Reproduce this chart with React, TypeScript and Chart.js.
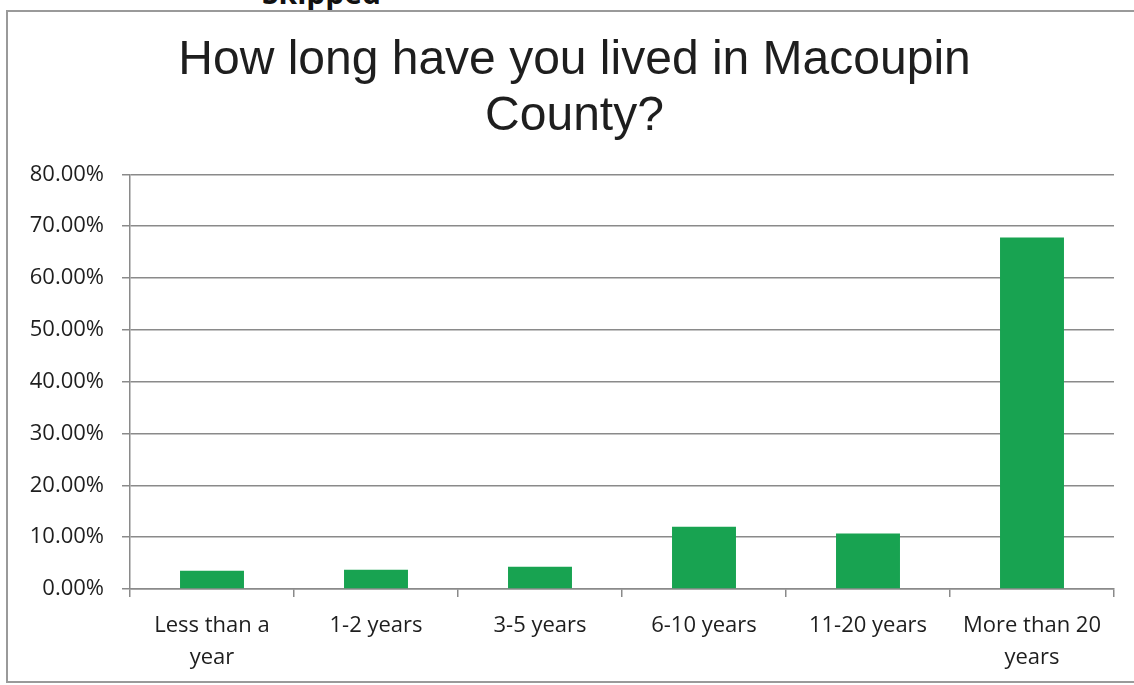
import React, { useEffect, useRef } from "react";
import { Chart, registerables } from "chart.js";

Chart.register(...registerables);

const titleLines = ["How long have you lived in Macoupin", "County?"];
const categoryLabels: (string | string[])[] = [
  ["Less than a", "year"],
  "1-2 years",
  "3-5 years",
  "6-10 years",
  "11-20 years",
  ["More than 20", "years"],
];
const percentValues = [3.5, 3.7, 4.3, 12.0, 10.7, 67.8];
const yTickMin = 0;
const yTickMax = 80;
const yTickStep = 10;

const GRID = "#8a8a8a";
const TEXT = "#1e1e1e";
const BAR = "#18a351";

export default function App() {
  const canvasRef = useRef<HTMLCanvasElement | null>(null);

  useEffect(() => {
    const canvas = canvasRef.current;
    if (!canvas) return;
    const chart = new Chart(canvas, {
      type: "bar",
      data: {
        labels: categoryLabels,
        datasets: [
          {
            data: percentValues,
            backgroundColor: BAR,
            borderWidth: 0,
            barPercentage: 0.39,
            categoryPercentage: 1,
          },
        ],
      },
      options: {
        animation: false,
        responsive: false,
        maintainAspectRatio: false,
        layout: { padding: { left: 0, right: 0, top: 0, bottom: 4 } },
        plugins: {
          legend: { display: false },
          tooltip: { enabled: false },
          title: {
            display: true,
            text: titleLines,
            color: TEXT,
            font: { family: "'Liberation Sans', Arial, sans-serif", size: 48, weight: "normal", lineHeight: 1.18 },
            padding: { top: 32, bottom: 29 },
          },
        },
        scales: {
          x: {
            grid: {
              display: true,
              drawOnChartArea: false,
              drawTicks: true,
              tickLength: 8,
              color: GRID,
              lineWidth: 1.5,
              offset: true,
            },
            border: { display: true, color: GRID, width: 1.5 },
            ticks: {
              color: TEXT,
              font: { family: "'Open Sans', sans-serif", size: 22, lineHeight: 1.45 },
              padding: 13,
              maxRotation: 0,
              autoSkip: false,
            },
            afterFit: (scale: any) => {
              scale.height = 92;
            },
          },
          y: {
            min: yTickMin,
            max: yTickMax,
            ticks: {
              stepSize: yTickStep,
              color: TEXT,
              font: { family: "'Open Sans', sans-serif", size: 22 },
              padding: 18,
              callback: (v: any) => Number(v).toFixed(2) + "%",
            },
            grid: {
              color: GRID,
              lineWidth: 1.5,
              drawTicks: true,
              tickLength: 8,
            },
            border: { display: true, color: GRID, width: 1.5 },
            afterFit: (scale: any) => {
              scale.width = 115;
            },
          },
          rightSpace: {
            type: "linear",
            position: "right",
            display: true,
            grid: { display: false, drawTicks: false },
            border: { display: false },
            ticks: { display: false },
            afterFit: (scale: any) => {
              scale.width = 20;
            },
          },
        },
      },
    });
    return () => chart.destroy();
  }, []);

  return (
    <div
      style={{
        position: "fixed",
        left: 0,
        top: 0,
        width: 1134,
        height: 685,
        overflow: "hidden",
        background: "#ffffff",
      }}
    >
      <div
        style={{
          position: "absolute",
          left: 262,
          top: -25,
          font: "bold 30px 'Open Sans', sans-serif",
          color: "#111",
          lineHeight: "36px",
        }}
      >
        Skipped
      </div>
      <div
        style={{
          position: "absolute",
          left: 6,
          top: 10,
          width: 1160,
          height: 673,
          borderTop: "2px solid #9a9a9a",
          borderLeft: "2px solid #9a9a9a",
          borderBottom: "2px solid #9a9a9a",
          boxSizing: "border-box",
        }}
      />
      <canvas
        ref={canvasRef}
        width={1119}
        height={685}
        style={{ position: "absolute", left: 15, top: 0, width: 1119, height: 685 }}
      />
    </div>
  );
}
